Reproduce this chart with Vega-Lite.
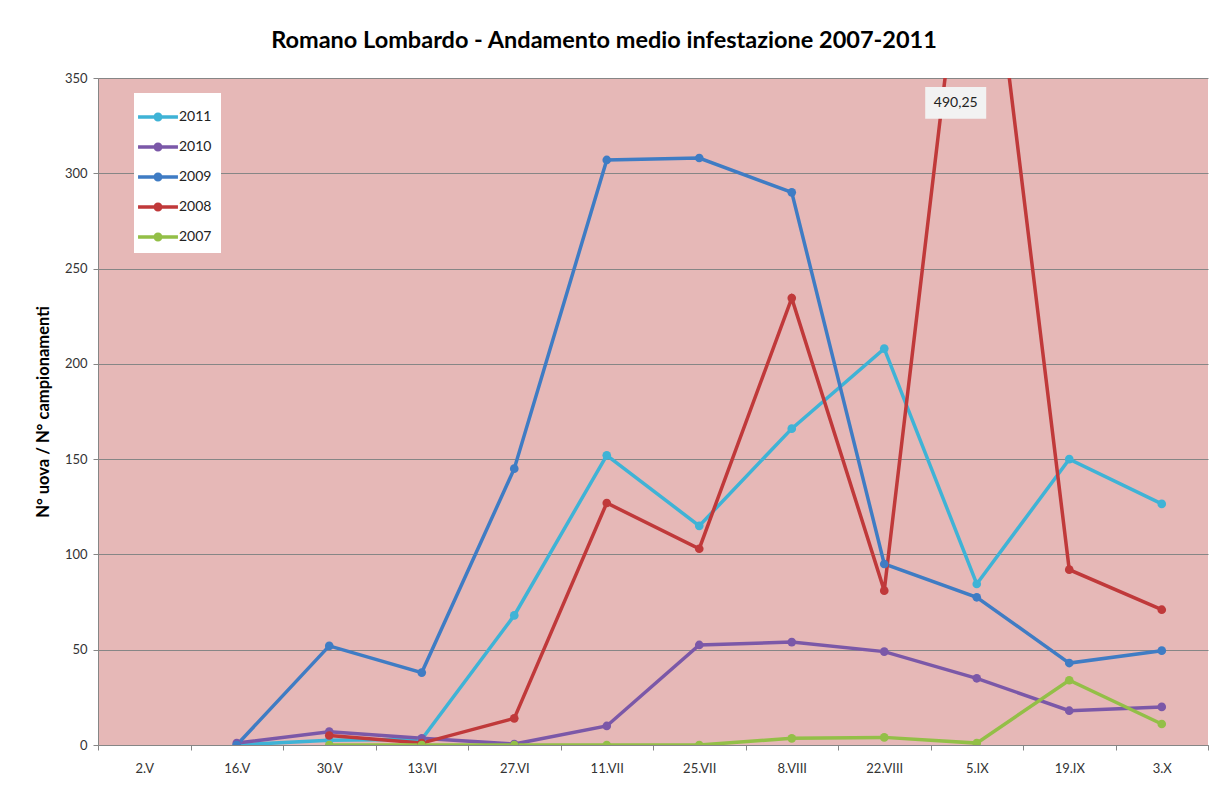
{
  "$schema": "https://vega.github.io/schema/vega-lite/v6.json",
  "autosize": "none",
  "width": 1110,
  "height": 667,
  "padding": {"left": 98, "top": 78, "right": 2, "bottom": 48},
  "background": "white",
  "title": {
    "text": "Romano Lombardo - Andamento medio infestazione 2007-2011",
    "font": "Lato",
    "fontSize": 23.5,
    "fontWeight": "bold",
    "color": "#000000",
    "anchor": "middle",
    "dx": -49,
    "offset": 20
  },
  "config": {
    "view": {"fill": "#e6b8b7", "stroke": null},
    "font": "Lato"
  },
  "datasets": {
    "series": [
      {"d": "16.V", "s": "2011", "v": 0},
      {"d": "30.V", "s": "2011", "v": 2.5},
      {"d": "13.VI", "s": "2011", "v": 3},
      {"d": "27.VI", "s": "2011", "v": 68},
      {"d": "11.VII", "s": "2011", "v": 152},
      {"d": "25.VII", "s": "2011", "v": 115},
      {"d": "8.VIII", "s": "2011", "v": 166},
      {"d": "22.VIII", "s": "2011", "v": 208},
      {"d": "5.IX", "s": "2011", "v": 84.5},
      {"d": "19.IX", "s": "2011", "v": 150},
      {"d": "3.X", "s": "2011", "v": 126.5},
      {"d": "16.V", "s": "2010", "v": 1},
      {"d": "30.V", "s": "2010", "v": 7},
      {"d": "13.VI", "s": "2010", "v": 3.5},
      {"d": "27.VI", "s": "2010", "v": 0.5},
      {"d": "11.VII", "s": "2010", "v": 10},
      {"d": "25.VII", "s": "2010", "v": 52.5},
      {"d": "8.VIII", "s": "2010", "v": 54},
      {"d": "22.VIII", "s": "2010", "v": 49},
      {"d": "5.IX", "s": "2010", "v": 35},
      {"d": "19.IX", "s": "2010", "v": 18},
      {"d": "3.X", "s": "2010", "v": 20},
      {"d": "16.V", "s": "2009", "v": 0},
      {"d": "30.V", "s": "2009", "v": 52},
      {"d": "13.VI", "s": "2009", "v": 38},
      {"d": "27.VI", "s": "2009", "v": 145},
      {"d": "11.VII", "s": "2009", "v": 307},
      {"d": "25.VII", "s": "2009", "v": 308},
      {"d": "8.VIII", "s": "2009", "v": 290},
      {"d": "22.VIII", "s": "2009", "v": 95},
      {"d": "5.IX", "s": "2009", "v": 77.5},
      {"d": "19.IX", "s": "2009", "v": 43},
      {"d": "3.X", "s": "2009", "v": 49.5},
      {"d": "30.V", "s": "2008", "v": 5},
      {"d": "13.VI", "s": "2008", "v": 1},
      {"d": "27.VI", "s": "2008", "v": 14},
      {"d": "11.VII", "s": "2008", "v": 127},
      {"d": "25.VII", "s": "2008", "v": 103},
      {"d": "8.VIII", "s": "2008", "v": 234.5},
      {"d": "22.VIII", "s": "2008", "v": 81},
      {"d": "5.IX", "s": "2008", "v": 490.25},
      {"d": "19.IX", "s": "2008", "v": 92},
      {"d": "3.X", "s": "2008", "v": 71},
      {"d": "30.V", "s": "2007", "v": 0},
      {"d": "13.VI", "s": "2007", "v": 0},
      {"d": "27.VI", "s": "2007", "v": 0},
      {"d": "11.VII", "s": "2007", "v": 0},
      {"d": "25.VII", "s": "2007", "v": 0},
      {"d": "8.VIII", "s": "2007", "v": 3.5},
      {"d": "22.VIII", "s": "2007", "v": 4},
      {"d": "5.IX", "s": "2007", "v": 1},
      {"d": "19.IX", "s": "2007", "v": 34},
      {"d": "3.X", "s": "2007", "v": 11}
    ],
    "note": [
      {"d": "5.IX", "v": 337, "label": "490,25"}
    ]
  },
  "encoding": {
    "x": {
      "field": "d",
      "type": "ordinal",
      "sort": ["2.V", "16.V", "30.V", "13.VI", "27.VI", "11.VII", "25.VII", "8.VIII", "22.VIII", "5.IX", "19.IX", "3.X"],
      "scale": {
        "domain": ["2.V", "16.V", "30.V", "13.VI", "27.VI", "11.VII", "25.VII", "8.VIII", "22.VIII", "5.IX", "19.IX", "3.X"],
        "paddingInner": 0,
        "paddingOuter": 0
      },
      "axis": {
        "title": null,
        "labelAngle": 0,
        "labelFontSize": 13,
        "labelColor": "#333333",
        "labelPadding": 12,
        "tickBand": "extent",
        "tickSize": 5,
        "tickColor": "#868686",
        "domainColor": "#868686",
        "grid": false
      }
    },
    "y": {
      "field": "v",
      "type": "quantitative",
      "scale": {"domain": [0, 350], "nice": false, "zero": true},
      "axis": {
        "title": "N° uova / N° campionamenti",
        "titleFontSize": 16.5,
        "titleFontWeight": "bold",
        "titleColor": "#000000",
        "titlePadding": 13,
        "values": [0, 50, 100, 150, 200, 250, 300, 350],
        "labelFontSize": 13,
        "labelColor": "#333333",
        "labelPadding": 6,
        "tickSize": 5,
        "tickColor": "#868686",
        "domainColor": "#868686",
        "grid": true,
        "gridColor": "#868686",
        "gridWidth": 1
      }
    }
  },
  "layer": [
    {
      "data": {"name": "series"},
      "mark": {"type": "line", "strokeWidth": 3.5, "clip": true},
      "encoding": {
        "color": {
          "field": "s",
          "type": "nominal",
          "scale": {
            "domain": ["2011", "2010", "2009", "2008", "2007"],
            "range": ["#3fb3d6", "#7b58a8", "#3f7cc4", "#c0393a", "#93bf47"]
          }
        },
        "order": {"value": null}
      }
    },
    {
      "data": {"name": "series"},
      "mark": {"type": "point", "filled": true, "opacity": 1, "size": 75, "clip": true},
      "encoding": {
        "color": {
          "field": "s",
          "type": "nominal",
          "legend": {
            "title": null,
            "orient": "none",
            "legendX": 36,
            "legendY": 15,
            "fillColor": "white",
            "padding": 9,
            "symbolType": "M-1.33,-0.11H-0.27V0.11H-1.33Z M0.27,-0.11H1.33V0.11H0.27Z M0.3,0A0.3,0.3,0,1,1,-0.3,0A0.3,0.3,0,1,1,0.3,0Z",
            "symbolSize": 900,
            "symbolStrokeWidth": 0,
            "labelFontSize": 14,
            "labelColor": "#222222",
            "labelOffset": 6,
            "rowPadding": 8
          }
        }
      }
    },
    {
      "data": {"name": "note"},
      "mark": {
        "type": "point",
        "shape": "M-1.69,-0.52H0.31V0.52H-1.69Z",
        "size": 3721,
        "filled": true,
        "color": "#f2f2f2",
        "opacity": 1
      },
      "encoding": {
        "x": {"field": "d", "type": "ordinal"},
        "y": {"field": "v", "type": "quantitative"}
      }
    },
    {
      "data": {"name": "note"},
      "mark": {"type": "text", "fontSize": 14, "color": "#222222", "dx": -21},
      "encoding": {
        "x": {"field": "d", "type": "ordinal"},
        "y": {"field": "v", "type": "quantitative"},
        "text": {"field": "label"}
      }
    }
  ]
}
